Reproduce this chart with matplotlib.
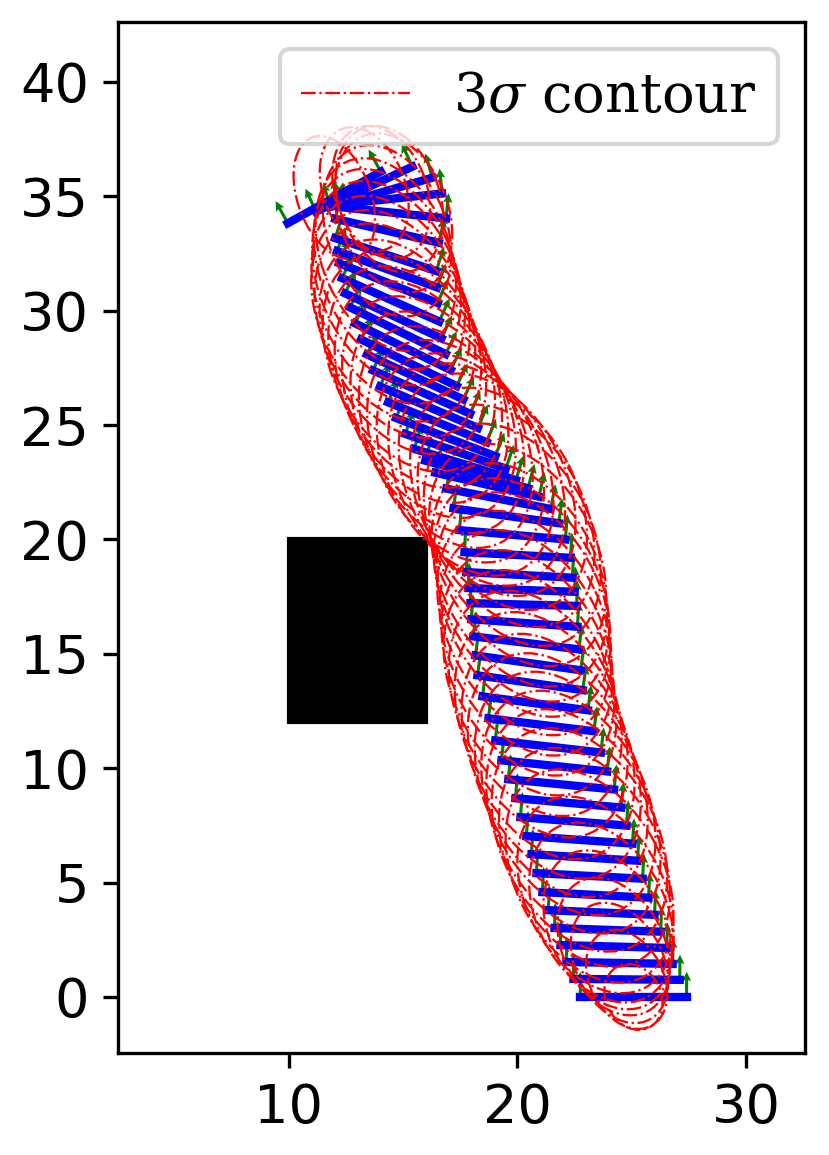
import numpy as np
import matplotlib
matplotlib.use("Agg")
import matplotlib.pyplot as plt
from matplotlib.patches import Ellipse, Rectangle
from matplotlib.lines import Line2D

plt.rcParams["mathtext.fontset"] = "dejavuserif"

# ---- data: bar poses (left end, heading in degrees) ----
left_x = [22.60, 22.30, 21.99, 21.73, 21.47, 21.20, 20.94, 20.68, 20.46, 20.24,
          19.98, 19.76, 19.45, 19.15, 18.88, 18.58, 18.32, 18.10, 18.01, 17.92,
          17.83, 17.79, 17.70, 17.61, 17.53, 17.31, 17.05, 16.74, 16.26, 15.82,
          15.34, 14.95, 14.55, 14.20, 13.85, 13.54, 13.28, 13.02, 12.76, 12.54,
          12.32, 12.19, 12.06, 11.97, 11.88, 11.88, 12.10, 11.93, 11.66, 11.05,
          9.82]
left_y = [0.00, 0.79, 1.53, 2.27, 3.02, 3.80, 4.59, 5.42, 6.25, 7.04,
          7.87, 8.70, 9.53, 10.36, 11.23, 12.20, 13.16, 14.08, 14.95, 15.78,
          16.52, 17.22, 17.88, 18.58, 19.45, 20.42, 21.38, 22.25, 22.95, 23.48,
          24.00, 24.66, 25.36, 26.05, 26.75, 27.45, 28.15, 28.81, 29.51, 30.21,
          30.82, 31.48, 32.13, 32.66, 33.22, 34.05, 34.54, 34.62, 34.49, 34.27,
          33.75]
heading = [0, -0.5, -1, -1.5, -2, -2.5, -3, -3, -3.5, -4,
           -4.5, -5, -5.5, -6, -6.5, -7, -7.5, -8, -8, -7,
           -4, -1.5, -2, -3, -3, -5, -8, -11, -13, -15,
           -17, -19, -21, -22, -23, -24, -25, -26, -26, -26,
           -25, -24, -22, -20, -18, -13, -6, 6, 16, 25,
           29]

# ---- data: 3-sigma ellipses (semi-axes, orientation in degrees) ----
ell_a = [1.5, 2.3, 2.8, 3.2, 3.7, 4.2, 4.6, 5.0, 5.1, 5.2,
         5.2, 5.2, 5.2, 5.2, 5.2, 5.2, 5.2, 5.2, 5.2, 5.2,
         5.2, 5.2, 5.2, 5.2, 5.2, 5.2, 5.2, 5.2, 5.2, 5.2,
         5.2, 5.2, 5.2, 5.2, 5.2, 5.2, 5.2, 5.1, 5.0, 5.0,
         4.9, 4.8, 4.7, 4.6, 4.4, 3.9, 3.6, 3.3, 3.0, 2.8,
         2.8]
ell_b = [1.2, 1.6, 1.9, 2.2, 2.5, 2.8, 3.0, 3.2, 3.3, 3.4,
         3.4, 3.4, 3.4, 3.4, 3.4, 3.4, 3.4, 3.4, 3.4, 3.4,
         3.4, 3.4, 3.4, 3.4, 3.4, 3.4, 3.4, 3.4, 3.4, 3.4,
         3.4, 3.4, 3.3, 3.3, 3.3, 3.3, 3.3, 3.3, 3.2, 3.2,
         3.2, 3.1, 3.0, 2.9, 2.8, 2.6, 2.4, 2.2, 2.0, 1.8,
         1.6]
ell_ang = [118, 118, 118, 118, 118, 118, 118, 118, 117, 117,
           116, 116, 115, 115, 115, 115, 115, 115, 115, 115,
           116, 116, 117, 117, 118, 118, 118, 118, 118, 118,
           118, 118, 118, 118, 118, 118, 118, 118, 117, 117,
           116, 115, 114, 113, 112, 112, 111, 110, 110, 110,
           110]

obstacle_xy = (10, 12)
obstacle_w, obstacle_h = 6, 8

BAR_LEN = 4.65
CAP = 0.15
ARROW_LEN = 1.1

fig = plt.figure(figsize=(829 / 300, 1155 / 300), dpi=300)
ax = fig.add_axes([118 / 829, 1 - 1053 / 1155, (805 - 118) / 829, (1053 - 22) / 1155])

ax.add_patch(Rectangle(obstacle_xy, obstacle_w, obstacle_h, color="black", zorder=1))

th = np.deg2rad(np.array(heading))
dx, dy = np.cos(th), np.sin(th)
sx = np.array(left_x) + CAP * dx
sy = np.array(left_y) + CAP * dy
ex = sx + BAR_LEN * dx
ey = sy + BAR_LEN * dy
nx, ny = -dy * ARROW_LEN, dx * ARROW_LEN
cx, cy = (sx + ex) / 2, (sy + ey) / 2

ax.quiver(np.concatenate([sx, ex]), np.concatenate([sy, ey]),
          np.concatenate([nx, nx]), np.concatenate([ny, ny]),
          angles="xy", scale_units="xy", scale=1, color="green",
          width=0.0045, headwidth=3.0, headlength=3.0, headaxislength=2.7, zorder=2)

for i in range(len(heading)):
    ax.plot([sx[i], ex[i]], [sy[i], ey[i]], color="blue", lw=2.0, zorder=3)

for i in range(len(heading)):
    ax.add_patch(Ellipse((cx[i], cy[i]), 2 * ell_a[i], 2 * ell_b[i], angle=ell_ang[i],
                         fill=False, ec="red", ls="-.", lw=0.55, zorder=4))

ax.set_xlim(2.52, 32.58)
ax.set_ylim(-2.45, 42.62)
ax.set_xticks([10, 20, 30])
ax.set_yticks([0, 5, 10, 15, 20, 25, 30, 35, 40])
ax.tick_params(labelsize=13)

handle = Line2D([], [], color="red", ls="-.", lw=0.55)
ax.legend([handle], [r"3$\sigma$ contour"], loc="upper right",
          prop={"family": "DejaVu Serif", "size": 13})

fig.savefig("out.png", dpi=300)
